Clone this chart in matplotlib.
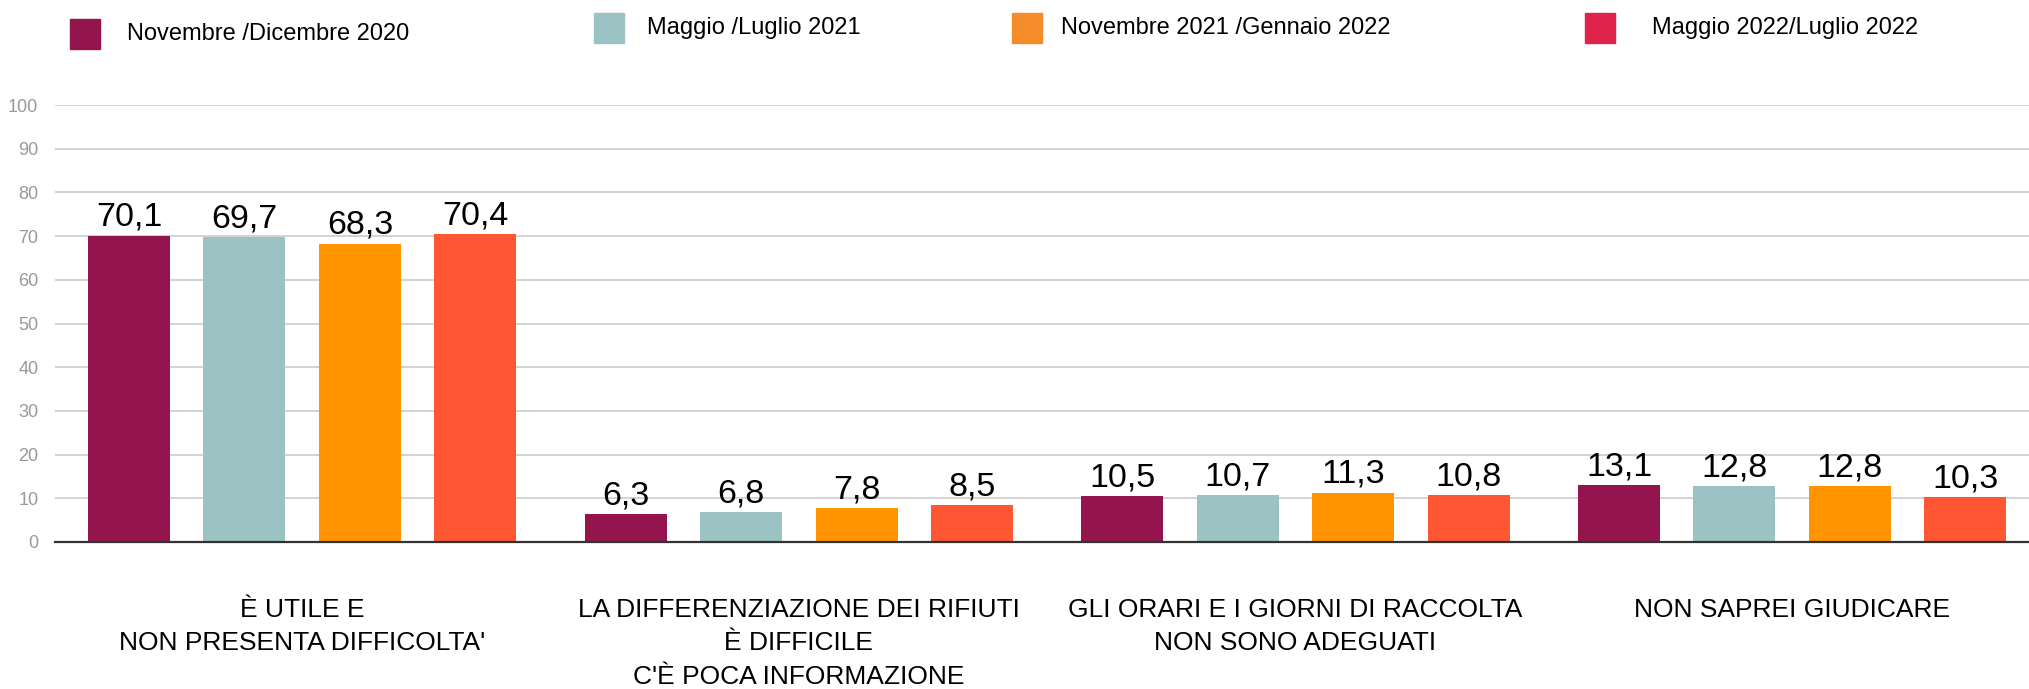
import numpy as np
import matplotlib
matplotlib.use("Agg")
import matplotlib.pyplot as plt
from matplotlib.patches import Rectangle

plt.rcParams['font.family'] = ['Liberation Sans', 'DejaVu Sans']

# Survey waves and answer categories
waves = ["Novembre /Dicembre 2020", "Maggio /Luglio 2021",
         "Novembre 2021 /Gennaio 2022", "Maggio 2022/Luglio 2022"]
categories = ["È UTILE E\nNON PRESENTA DIFFICOLTA'",
              "LA DIFFERENZIAZIONE DEI RIFIUTI\nÈ DIFFICILE\nC'È POCA INFORMAZIONE",
              "GLI ORARI E I GIORNI DI RACCOLTA\nNON SONO ADEGUATI",
              "NON SAPREI GIUDICARE"]
nov_dic_2020 = [70.1, 6.3, 10.5, 13.1]
mag_lug_2021 = [69.7, 6.8, 10.7, 12.8]
nov_2021_gen_2022 = [68.3, 7.8, 11.3, 12.8]
mag_lug_2022 = [70.4, 8.5, 10.8, 10.3]
series = [nov_dic_2020, mag_lug_2021, nov_2021_gen_2022, mag_lug_2022]

bar_colors = ["#94154D", "#9CC3C3", "#FF9300", "#FF5733"]
legend_colors = ["#94154D", "#9CC3C3", "#F68B2A", "#E0234A"]

W, H = 2029, 689
fig = plt.figure(figsize=(W / 100, H / 100), dpi=100)
ax = fig.add_axes([55 / W, 147 / H, 1 - 55 / W, 437 / H])

group_step = 4.3
centers = np.arange(len(categories)) * group_step
offsets = [-1.5, -0.5, 0.5, 1.5]

for vals, off, col in zip(series, offsets, bar_colors):
    xs = centers + off
    ax.bar(xs, vals, width=0.71, color=col, zorder=3)
    for x, v in zip(xs, vals):
        ax.annotate(f"{v:.1f}".replace(".", ","), (x, v), xytext=(0, 7),
                    textcoords="offset points", ha="center", va="baseline",
                    fontsize=24.5, color="black")

ax.set_xlim(-2.14, 14.95)
ax.set_ylim(0, 100)
ax.set_yticks(np.arange(0, 101, 10))
ax.tick_params(axis="y", length=0, pad=12, labelsize=13, labelcolor="#999999")
ax.yaxis.grid(True, color="#cccccc", linewidth=1.2, zorder=0)
ax.set_axisbelow(True)

ax.set_xticks(centers)
ax.set_xticklabels(categories, fontsize=19, linespacing=1.5)
ax.tick_params(axis="x", length=0, pad=40)

for side in ["top", "right", "left"]:
    ax.spines[side].set_visible(False)
ax.spines["bottom"].set_color("#333333")
ax.spines["bottom"].set_linewidth(1.6)
ax.spines["bottom"].set_zorder(4)

# legend row along the top
legend_items = [(70, 34, 127), (594, 28, 647), (1012, 28, 1061), (1585, 28, 1652)]
for (sx, cy, tx), label, col in zip(legend_items, waves, legend_colors):
    fig.patches.append(Rectangle((sx / W, 1 - (cy + 15) / H), 30 / W, 30 / H,
                                 transform=fig.transFigure, color=col))
    fig.text(tx / W, 1 - cy / H, label, fontsize=17, va="center", ha="left")

fig.savefig("out.png", dpi=100)
plt.close(fig)
